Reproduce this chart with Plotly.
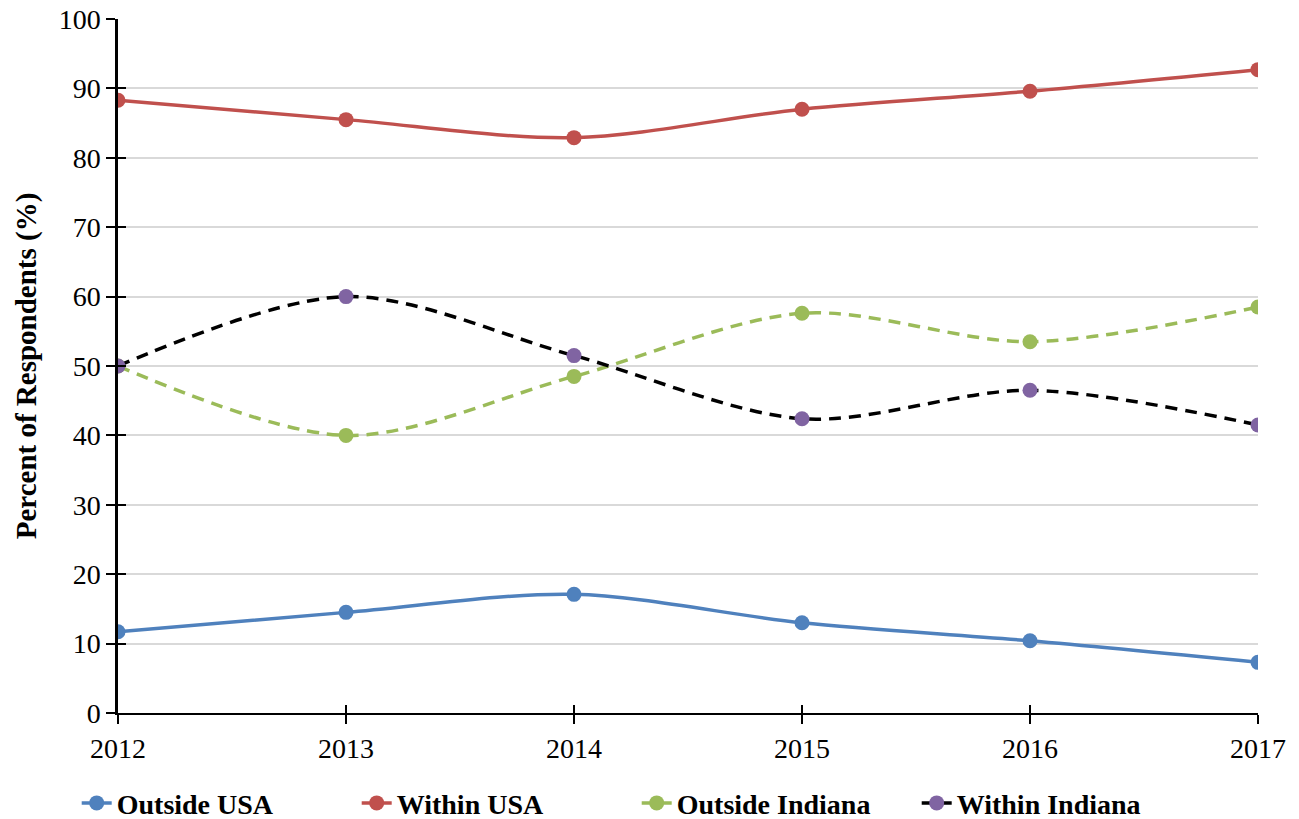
import plotly.graph_objects as go

years = [2012, 2013, 2014, 2015, 2016, 2017]
outside_usa = [11.7, 14.5, 17.1, 13.0, 10.4, 7.3]
within_usa = [88.3, 85.5, 82.9, 87.0, 89.6, 92.7]
outside_indiana = [50.0, 40.0, 48.5, 57.6, 53.5, 58.5]
within_indiana = [50.0, 60.0, 51.5, 42.4, 46.5, 41.5]

series = [
    ("Outside USA", outside_usa, "#4f81bd", "#4f81bd", "solid"),
    ("Within USA", within_usa, "#c0504d", "#c0504d", "solid"),
    ("Outside Indiana", outside_indiana, "#9bbb59", "#9bbb59", "12px,8px"),
    ("Within Indiana", within_indiana, "#000000", "#8064a2", "12px,8px"),
]

fig = go.Figure()
# invisible trace on the overlay axes so the inward half of each tick is drawn
fig.add_trace(go.Scatter(x=[2012], y=[0], xaxis="x2", yaxis="y2", mode="markers",
                         marker=dict(opacity=0), showlegend=False, hoverinfo="skip"))
for name, vals, lcol, mcol, dash in series:
    fig.add_trace(go.Scatter(
        x=years, y=vals, name=name, mode="lines+markers",
        line=dict(color=lcol, width=3.5, shape="spline", smoothing=0.9, dash=dash),
        marker=dict(color=mcol, size=15),
    ))

font = "Liberation Serif, Times New Roman, serif"
fig.update_layout(
    width=1299, height=819,
    margin=dict(l=118, r=41, t=19, b=106, autoexpand=False),
    plot_bgcolor="white", paper_bgcolor="white",
    font=dict(family=font, size=28, color="black"),
    legend=dict(orientation="h", x=0.455, xanchor="center", y=-0.13, yanchor="middle",
                font=dict(family=font, size=28, color="black", weight="bold"),
                traceorder="normal", itemclick=False, entrywidth=235),
    xaxis=dict(range=[2012, 2017], tickvals=years, ticks="outside", ticklen=9,
               tickwidth=2, tickcolor="black", showline=True, linecolor="black",
               linewidth=2, showgrid=False, zeroline=False,
               tickfont=dict(size=28)),
    yaxis=dict(range=[0, 100], dtick=10, ticks="outside", ticklen=9, tickwidth=2,
               tickcolor="black", showline=True, linecolor="black", linewidth=2.5,
               showgrid=True, gridcolor="#d9d9d9", gridwidth=2, zeroline=False,
               tickfont=dict(size=28),
               title=dict(text="<b>Percent of Respondents (%)</b>", font=dict(size=29),
                          standoff=14)),
    xaxis2=dict(range=[2012, 2017], tickvals=years, ticks="inside", ticklen=8,
                tickwidth=2, tickcolor="black", showticklabels=False, showgrid=False,
                zeroline=False, overlaying="x", side="bottom"),
    yaxis2=dict(range=[0, 100], dtick=10, ticks="inside", ticklen=8, tickwidth=2,
                tickcolor="black", showticklabels=False, showgrid=False,
                zeroline=False, overlaying="y", side="left"),
)

fig.write_html("out.html")
